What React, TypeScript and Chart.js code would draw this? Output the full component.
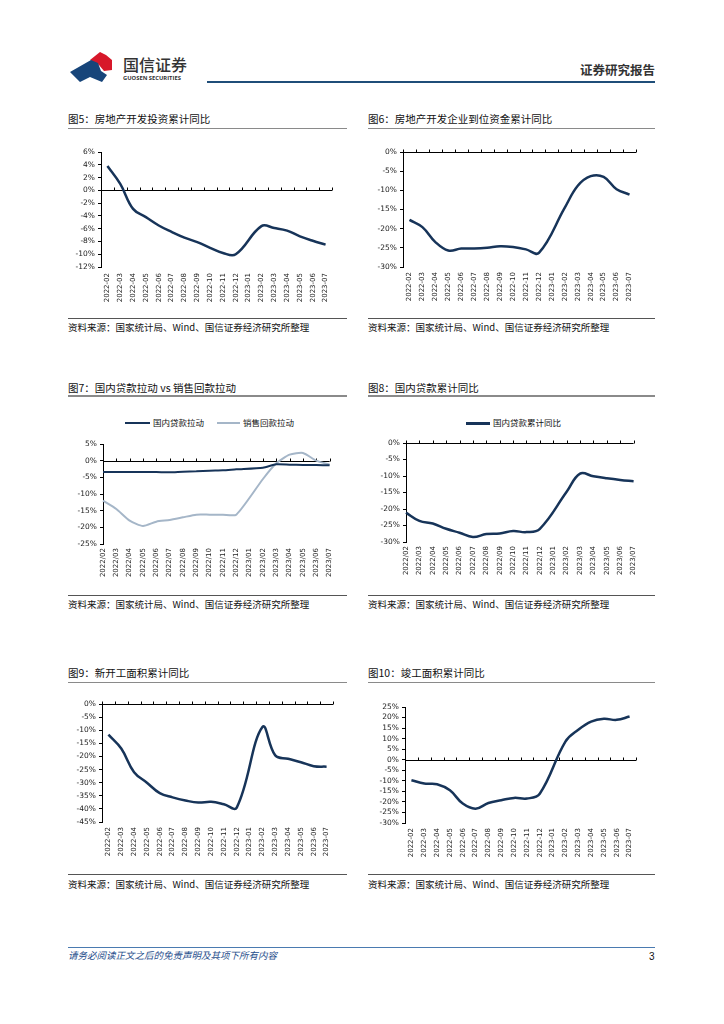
import React, { useEffect, useRef } from 'react';
import { Chart, registerables } from 'chart.js';

Chart.register(...registerables);

// ---------- data ----------
const monthsDash = ['2022-02', '2022-03', '2022-04', '2022-05', '2022-06', '2022-07', '2022-08', '2022-09', '2022-10', '2022-11', '2022-12', '2023-01', '2023-02', '2023-03', '2023-04', '2023-05', '2023-06', '2023-07'];
const monthsSlash = ['2022/02', '2022/03', '2022/04', '2022/05', '2022/06', '2022/07', '2022/08', '2022/09', '2022/10', '2022/11', '2022/12', '2023/01', '2023/02', '2023/03', '2023/04', '2023/05', '2023/06', '2023/07'];

// 图5 房地产开发投资累计同比 (%)
const investYoY = [3.8, 1.0, -2.9, -4.2, -5.5, -6.5, -7.4, -8.1, -9.0, -9.8, -10.0, null, -5.6, -5.9, -6.3, -7.2, -7.9, -8.5];
// 图6 房地产开发企业到位资金累计同比 (%)
const fundsYoY = [-17.7, -19.6, -23.5, -25.7, -25.2, -25.2, -25.0, -24.6, -24.8, -25.4, -26.3, null, -14.5, -8.8, -6.3, -6.5, -9.7, -11.1];
// 图7 国内贷款拉动 / 销售回款拉动 (%)
const loanPull = [-3.4, -3.4, -3.4, -3.4, -3.4, -3.5, -3.3, -3.2, -3.0, -2.9, -2.6, null, -2.1, -1.1, -1.2, -1.3, -1.3, -1.4];
const salesPull = [-12.0, -14.5, -18.0, -19.6, -18.3, -17.8, -17.0, -16.2, -16.2, -16.2, -16.2, null, -5.5, -0.8, 1.8, 2.3, 0.0, -1.2];
// 图8 国内贷款累计同比 (%)
const loanYoY = [-21.1, -23.6, -24.4, -26.0, -27.2, -28.5, -27.6, -27.4, -26.7, -27.0, -26.0, null, -14.8, -9.3, -10.1, -10.7, -11.2, -11.6];
// 图9 新开工面积累计同比 (%)
const newStartYoY = [-11.7, -17.0, -26.0, -30.0, -34.0, -35.6, -36.8, -37.6, -37.3, -38.2, -39.5, null, -8.8, -19.6, -20.9, -22.2, -23.7, -23.9];
// 图10 竣工面积累计同比 (%)
const completedYoY = [-9.7, -11.3, -11.6, -14.5, -20.8, -23.2, -20.5, -19.2, -18.1, -18.4, -16.1, null, 8.6, 14.2, 18.1, 19.4, 18.9, 20.5];

const NAVY = '#173459';
const LIGHT = '#a5b6c8';
const CJK = '"Noto Sans CJK SC", "Noto Sans", sans-serif';

// ---------- plugin: horizontal axis line at 0 with upward ticks ----------
const zeroAxisPlugin = {
  id: 'zeroAxis',
  beforeDatasetsDraw(chart: any, _args: any, opts: any) {
    const { ctx, chartArea, scales } = chart;
    const xs = scales.x;
    const ys = scales.y;
    const y0 = Math.round(ys.getPixelForValue(0)) + 0.5;
    ctx.save();
    ctx.strokeStyle = '#000';
    ctx.lineWidth = 1;
    ctx.beginPath();
    ctx.moveTo(chartArea.left, y0);
    ctx.lineTo(chartArea.right, y0);
    const n = xs.ticks.length;
    if (opts && opts.between) {
      const w = (chartArea.right - chartArea.left) / n;
      for (let i = 0; i <= n; i++) {
        const px = Math.round(chartArea.left + i * w) + 0.5;
        ctx.moveTo(px, y0);
        ctx.lineTo(px, y0 - 3);
      }
    } else {
      for (let i = 0; i < n; i++) {
        const px = Math.round(xs.getPixelForValue(i)) + 0.5;
        ctx.moveTo(px, y0);
        ctx.lineTo(px, y0 - 3);
      }
    }
    ctx.stroke();
    ctx.restore();
  },
};

type Series = { data: (number | null)[]; color: string; width: number };
type Spec = {
  plot: [number, number, number, number];
  min: number;
  max: number;
  step: number;
  labels: string[];
  series: Series[];
  offset: boolean;
  tension: number;
  xPad: number;
};

const YW = 40;
const PT = 8;
const PR = 10;
const XH = 46;

function LineChart({ spec }: { spec: Spec }) {
  const ref = useRef<HTMLCanvasElement>(null);
  const [l, t, r, b] = spec.plot;
  const w = YW + (r - l) + PR;
  const h = PT + (b - t) + XH;
  useEffect(() => {
    const chart = new Chart(ref.current as HTMLCanvasElement, {
      type: 'line',
      data: {
        labels: spec.labels,
        datasets: spec.series.map((s) => ({
          data: s.data,
          borderColor: s.color,
          backgroundColor: s.color,
          borderWidth: s.width,
          pointRadius: 0,
          tension: spec.tension,
          spanGaps: true,
          fill: false,
        })),
      },
      options: {
        responsive: false,
        animation: false,
        devicePixelRatio: 1,
        layout: { padding: { top: PT, right: PR, left: 0, bottom: 0 } },
        plugins: {
          legend: { display: false },
          tooltip: { enabled: false },
          zeroAxis: { between: spec.offset },
        } as any,
        scales: {
          x: {
            offset: spec.offset,
            grid: { display: false, drawTicks: false },
            border: { display: false },
            ticks: {
              autoSkip: false,
              maxRotation: 90,
              minRotation: 90,
              padding: spec.xPad,
              color: '#222',
              font: { size: 7, family: 'DejaVu Sans' },
            },
            afterFit: (s: any) => {
              s.height = XH;
            },
          },
          y: {
            min: spec.min,
            max: spec.max,
            ticks: {
              stepSize: spec.step,
              autoSkip: false,
              padding: 3,
              color: '#222',
              font: { size: 7.5, family: 'DejaVu Sans' },
              callback: (v: any) => `${v}%`,
            },
            grid: { display: true, drawOnChartArea: false, drawTicks: true, tickLength: 3, color: '#000' },
            border: { display: true, color: '#000', width: 1 },
            afterFit: (s: any) => {
              s.width = YW;
            },
          },
        },
      },
      plugins: [zeroAxisPlugin],
    } as any);
    return () => chart.destroy();
  }, []);
  return (
    <canvas
      ref={ref}
      width={w}
      height={h}
      style={{ position: 'absolute', left: l - YW, top: t - PT, width: w, height: h }}
    />
  );
}

function Text({ x, y, size, children, style }: any) {
  return (
    <div
      style={{
        position: 'absolute',
        left: x,
        top: y - size * 0.7,
        fontSize: size,
        lineHeight: `${size * 1.4}px`,
        whiteSpace: 'nowrap',
        fontFamily: CJK,
        color: '#111',
        ...style,
      }}
    >
      {children}
    </div>
  );
}

function HLine({ x1, x2, y, color, th }: any) {
  return <div style={{ position: 'absolute', left: x1, top: y, width: x2 - x1, height: th, background: color }} />;
}

function Panel({ x1, x2, titleY, lineY, srcLineY, srcY, title }: any) {
  return (
    <>
      <Text x={x1} y={titleY} size={10.5}>{title}</Text>
      <HLine x1={x1} x2={x2} y={lineY} color="#8a8a8a" th={1.5} />
      <HLine x1={x1} x2={x2} y={srcLineY} color="#555" th={1.5} />
      <Text x={x1} y={srcY} size={9.5}>资料来源：国家统计局、Wind、国信证券经济研究所整理</Text>
    </>
  );
}

const spec5: Spec = { plot: [101, 152, 332, 267], min: -12, max: 6, step: 2, labels: monthsDash, series: [{ data: investYoY, color: NAVY, width: 2.5 }], offset: true, tension: 0.4, xPad: 6 };
const spec6: Spec = { plot: [403, 152, 636, 267], min: -30, max: 0, step: 5, labels: monthsDash, series: [{ data: fundsYoY, color: NAVY, width: 2.5 }], offset: true, tension: 0.4, xPad: 5 };
const spec7: Spec = { plot: [103, 444, 332, 544], min: -25, max: 5, step: 5, labels: monthsSlash, series: [{ data: loanPull, color: NAVY, width: 2 }, { data: salesPull, color: LIGHT, width: 2 }], offset: false, tension: 0.2, xPad: 4 };
const spec8: Spec = { plot: [406, 443, 636, 542], min: -30, max: 0, step: 5, labels: monthsSlash, series: [{ data: loanYoY, color: NAVY, width: 2.5 }], offset: false, tension: 0.4, xPad: 4 };
const spec9: Spec = { plot: [102, 704, 333, 822], min: -45, max: 0, step: 5, labels: monthsDash, series: [{ data: newStartYoY, color: NAVY, width: 2.5 }], offset: true, tension: 0.4, xPad: 5 };
const spec10: Spec = { plot: [405, 707, 636, 823], min: -30, max: 25, step: 5, labels: monthsDash, series: [{ data: completedYoY, color: NAVY, width: 2.5 }], offset: true, tension: 0.4, xPad: 5 };

function Logo() {
  return (
    <svg style={{ position: 'absolute', left: 66, top: 48 }} width={50} height={38} viewBox="66 48 50 38">
      <path d="M90 60 L100 52 L106 55 L112 60 L112 70 L104 71 L99 65 Z" fill="#d7182a" />
      <path d="M70 72 L91 60 L98 63 L101 71 L107 75 L102 82 L90 77 L80 82 Z" fill="#17457a" />
    </svg>
  );
}

export default function App() {
  return (
    <div style={{ position: 'absolute', left: 0, top: 0, width: 724, height: 1024, background: '#fff', overflow: 'hidden' }}>
      {/* header */}
      <Logo />
      <Text x={123} y={64.5} size={16} style={{ color: '#333', fontWeight: 500 }}>国信证券</Text>
      <Text x={123} y={78.5} size={5.8} style={{ color: '#333', fontWeight: 700, fontFamily: '"Open Sans", sans-serif' }}>GUOSEN SECURITIES</Text>
      <Text x={580} y={70} size={12.5} style={{ color: '#333', fontWeight: 700 }}>证券研究报告</Text>
      <HLine x1={207} x2={655} y={81} color="#1f4e79" th={2} />

      {/* row 1 */}
      <Panel x1={68} x2={347} titleY={119} lineY={127.5} srcLineY={317.5} srcY={328} title="图5：房地产开发投资累计同比" />
      <Panel x1={368} x2={655} titleY={119} lineY={127.5} srcLineY={317.5} srcY={328} title="图6：房地产开发企业到位资金累计同比" />
      <LineChart spec={spec5} />
      <LineChart spec={spec6} />

      {/* row 2 */}
      <Panel x1={68} x2={347} titleY={388} lineY={395} srcLineY={594.5} srcY={605} title="图7：国内贷款拉动 vs 销售回款拉动" />
      <Panel x1={368} x2={655} titleY={388} lineY={395} srcLineY={594.5} srcY={605} title="图8：国内贷款累计同比" />
      <HLine x1={125} x2={150} y={422} color={NAVY} th={2} />
      <Text x={153} y={423} size={8.5}>国内贷款拉动</Text>
      <HLine x1={217} x2={240} y={422} color={LIGHT} th={2} />
      <Text x={243} y={423} size={8.5}>销售回款拉动</Text>
      <HLine x1={466} x2={490} y={422} color={NAVY} th={2.5} />
      <Text x={493} y={422.5} size={8.5}>国内贷款累计同比</Text>
      <LineChart spec={spec7} />
      <LineChart spec={spec8} />

      {/* row 3 */}
      <Panel x1={68} x2={347} titleY={673} lineY={681.5} srcLineY={873.5} srcY={884.5} title="图9：新开工面积累计同比" />
      <Panel x1={368} x2={655} titleY={673} lineY={681.5} srcLineY={873.5} srcY={884.5} title="图10：竣工面积累计同比" />
      <LineChart spec={spec9} />
      <LineChart spec={spec10} />

      {/* footer */}
      <HLine x1={68} x2={655} y={947} color="#4a7ab0" th={1} />
      <Text x={68} y={956} size={9.5} style={{ color: '#1f4e8c', fontStyle: 'italic' }}>请务必阅读正文之后的免责声明及其项下所有内容</Text>
      <Text x={649} y={957} size={10} style={{ color: '#111', fontFamily: '"Liberation Sans", sans-serif' }}>3</Text>
    </div>
  );
}
